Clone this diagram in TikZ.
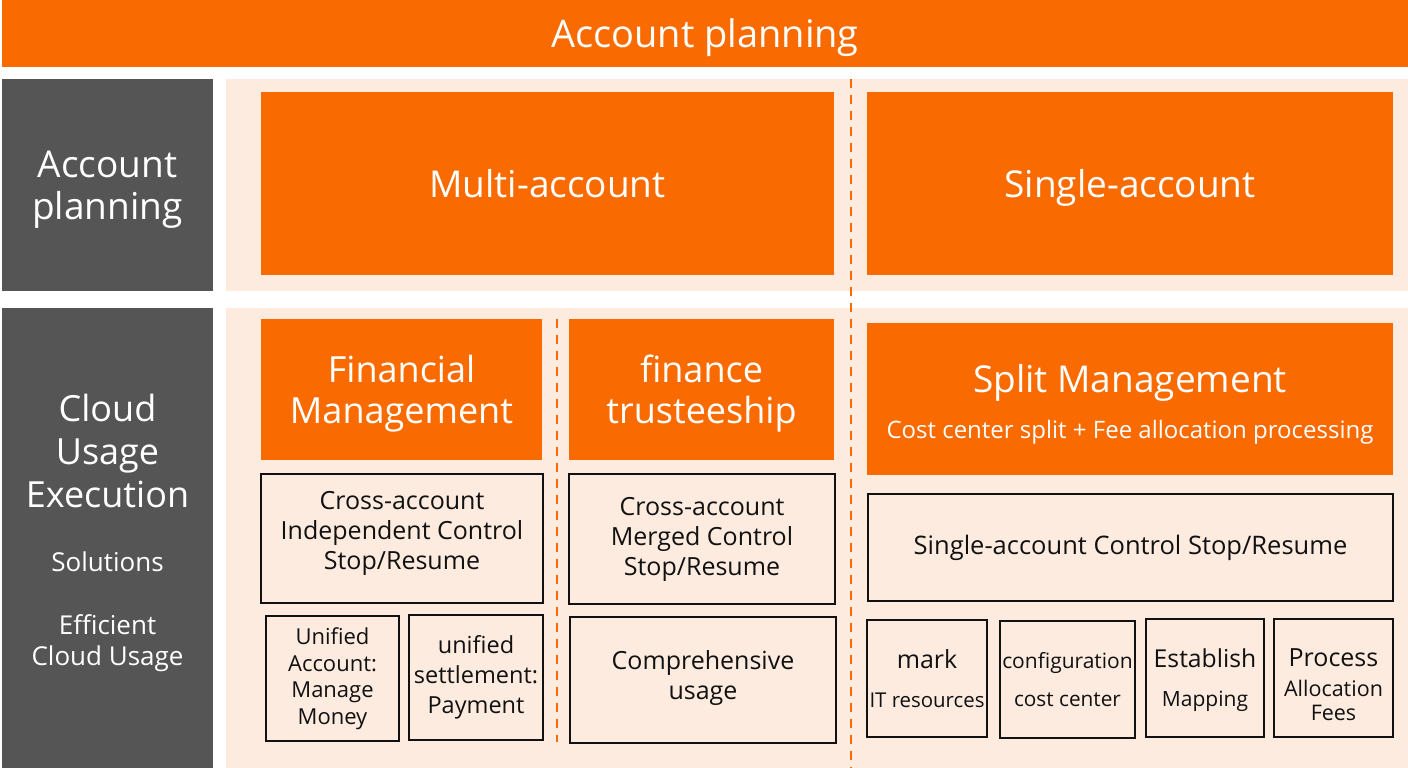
\documentclass[tikz,border=0pt]{standalone}
\usepackage{fontspec}
\setmainfont{Open Sans}
\definecolor{brand}{RGB}{249,107,0}
\definecolor{pale}{RGB}{253,235,224}
\definecolor{darkpanel}{RGB}{85,85,85}
\definecolor{ink}{RGB}{17,17,17}
\newcommand{\fsz}[2]{\fontsize{#1pt}{#2pt}\selectfont}
\newcommand{\sh}[2]{\raisebox{#1}[\height][\depth]{#2}}
\newcommand{\bx}[7]{\node[#6, minimum width={(#4-#2)*1pt}, minimum height={(#5-#3)*1pt}] (#1) at ({(#2+#4)/2*1pt},{-(#3+#5)/2*1pt}) {#7};}
\tikzset{
  base/.style={rectangle, inner sep=0pt, outer sep=0pt, align=center},
  orangebox/.style={base, fill=brand, text=white},
  darkbox/.style={base, fill=darkpanel, text=white},
  palebox/.style={base, fill=pale},
  linebox/.style={base, draw=ink, line width=2.4pt, text=ink},
  divider/.style={draw=brand, line width=1.3pt, dash pattern=on 9pt off 7pt},
}
\begin{document}
\begin{tikzpicture}
\useasboundingbox (0,0) rectangle (1408pt,-768pt);
\fill[white] (0,0) rectangle (1408pt,-768pt);
% header
\bx{title}{2}{0}{1408}{67}{orangebox, font=\fsz{38}{44}}{\sh{-4pt}{Account planning}}
% left panels
\bx{lp1}{2}{79}{213}{291}{darkbox, font=\fsz{37}{42}}{\sh{-5pt}{Account}\\\sh{-5pt}{planning}}
\bx{lp2}{2}{308}{213}{768}{darkbox}{}
\node[base, text=white, font=\fsz{36}{43}] (cue) at (107.5pt,-451pt) {Cloud\\Usage\\Execution};
\node[base, text=white, font=\fsz{26}{31}] (sol) at (107.5pt,-562pt) {Solutions};
\node[base, text=white, font=\fsz{26}{31}] (eff) at (107.5pt,-643pt) {Efficient\\Cloud Usage};
% pale panels
\bx{pp1}{226}{79}{1408}{291}{palebox}{}
\bx{pp2}{226}{308}{1408}{768}{palebox}{}
% dashed dividers
\coordinate (d1a) at (851pt,-79pt);
\coordinate (d1b) at (851pt,-768pt);
\coordinate (d2a) at (557pt,-319pt);
\coordinate (d2b) at (557pt,-742pt);
\draw[divider] (d1a) -- (d1b);
\draw[divider] (d2a) -- (d2b);
% row 1
\bx{multi}{261}{92}{834}{275}{orangebox, font=\fsz{37}{44}}{Multi-account}
\bx{single}{867}{92}{1393}{275}{orangebox, font=\fsz{37}{44}}{\sh{-4pt}{Single-account}}
% row 2 orange
\bx{fin}{261}{319}{542}{460}{orangebox, font=\fsz{36}{41}}{\sh{-4pt}{Financial}\\\sh{-4pt}{Management}}
\bx{trust}{569}{319}{834}{460}{orangebox, font=\fsz{36}{41}}{\sh{-4pt}{finance}\\\sh{-4pt}{trusteeship}}
\bx{split}{867}{323}{1393}{475}{orangebox, font=\fsz{37}{44}}{\sh{-5pt}{Split Management}\\[2pt]\fsz{24}{50}\sh{-5pt}{Cost center split + Fee allocation processing}}
% row 3 outlined
\bx{indep}{261}{474}{543}{603}{linebox, font=\fsz{25}{30}}{\sh{5pt}{Cross-account}\\\sh{5pt}{Independent Control}\\\sh{5pt}{Stop/Resume}}
\bx{merged}{569}{474}{835}{604}{linebox, font=\fsz{25}{30}}{Cross-account\\Merged Control\\Stop/Resume}
\bx{sctrl}{868}{494}{1393}{601}{linebox, font=\fsz{25.5}{30}}{Single-account Control Stop/Resume}
% row 4 outlined
\bx{uacc}{266}{616}{399}{741}{linebox, font=\fsz{22}{26.5}}{Unified\\Account:\\Manage\\Money}
\bx{uset}{409}{615}{543}{740}{linebox, font=\fsz{23.5}{30}}{unified\\settlement:\\Payment}
\bx{comp}{570}{617}{836}{743}{linebox, font=\fsz{25}{30}}{\sh{2pt}{Comprehensive}\\\sh{2pt}{usage}}
\bx{mark}{867}{620}{987}{737}{linebox, font=\fsz{25}{30}}{mark\\[9pt]\fsz{20.4}{30}IT resources}
\bx{conf}{1000}{621}{1135}{738}{linebox, font=\fsz{21}{30}}{configuration\\[8pt]\fsz{20.8}{30}cost center}
\bx{estab}{1146}{619}{1264}{737}{linebox, font=\fsz{24.7}{30}}{\sh{-2pt}{Establish}\\[9pt]\fsz{21}{30}\sh{-2pt}{Mapping}}
\bx{proc}{1274}{619}{1393}{737}{linebox, font=\fsz{25}{30}}{\sh{-7pt}{Process}\\\fsz{21.5}{30}\sh{-7pt}{Allocation}\\[-6pt]\fsz{21.5}{24}\sh{-7pt}{Fees}}
\end{tikzpicture}
\end{document}
